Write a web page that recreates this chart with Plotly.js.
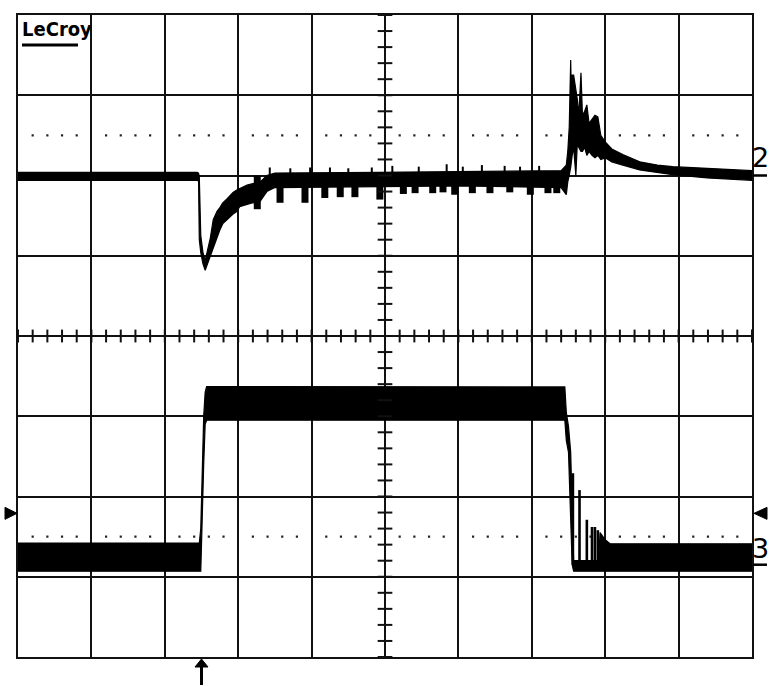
<!DOCTYPE html>
<html><head><meta charset="utf-8">
<script src="https://cdn.plot.ly/plotly-3.0.1.min.js"></script>
<style>html,body{margin:0;padding:0;background:#fff;}#chart{width:778px;height:686px;}</style>
</head><body><div id="chart"></div>
<script>
// Channel 2 (upper trace): time and amplitude in screen divisions, min/max envelope
const ch2T  = [0,2.44,2.46,2.47,2.49,2.52,2.55,2.57,2.62,2.66,2.71,2.75,2.79,2.85,2.93,2.98,3.02,3.12,3.20,3.30,3.39,3.50,4.90,6.00,7.40,7.47,7.49,7.51,7.53,7.54,7.55,7.57,7.60,7.62,7.64,7.67,7.69,7.72,7.75,7.78,7.82,7.86,7.90,7.94,8.00,8.09,8.24,8.47,8.71,8.92,9.39,10.0];
const ch2Hi = [2.04,2.04,2.03,1.98,1.25,1.04,0.94,1.02,1.22,1.45,1.55,1.60,1.66,1.71,1.79,1.82,1.84,1.88,1.90,1.92,2.00,2.03,2.04,2.05,2.06,2.13,2.30,2.60,3.44,2.90,3.25,3.25,3.10,2.95,2.75,3.28,2.75,2.80,2.88,2.65,2.70,2.75,2.73,2.50,2.42,2.33,2.26,2.17,2.13,2.11,2.09,2.06];
const ch2Lo = [1.94,1.94,1.93,1.20,1.04,0.90,0.82,0.88,1.02,1.12,1.22,1.32,1.40,1.45,1.52,1.55,1.61,1.64,1.66,1.68,1.80,1.85,1.86,1.87,1.85,1.76,1.92,2.00,2.10,2.10,2.25,2.35,2.00,2.40,2.35,2.30,2.30,2.35,2.25,2.30,2.25,2.22,2.25,2.20,2.22,2.17,2.13,2.07,2.04,2.01,1.97,1.94];
// downward noise bursts and upward glitches on channel 2
const ch2DipT  = [3.26,3.57,3.91,4.18,4.39,4.59,4.93,5.25,5.41,5.65,5.79,5.95,6.19,6.43,6.70,6.98,7.22,7.34];
const ch2DipV  = [1.58,1.66,1.66,1.72,1.73,1.73,1.70,1.77,1.78,1.78,1.79,1.76,1.78,1.78,1.79,1.76,1.78,1.78];
const ch2PeakT = [3.43,3.71,3.98,4.25,4.50,4.82,5.10,5.46,5.84,6.06,6.32,6.63,6.84,7.10];
const ch2PeakV = [2.10,2.09,2.10,2.10,2.09,2.10,2.12,2.11,2.14,2.11,2.13,2.12,2.11,2.12];

// Channel 3 (lower trace)
const ch3T  = [0,2.47,2.49,2.51,2.53,2.55,2.57,7.45,7.47,7.50,7.53,7.55,7.57,7.91,7.93,8.00,8.07,10.0];
const ch3Hi = [-2.58,-2.58,-2.40,-1.50,-1.00,-0.70,-0.63,-0.635,-0.95,-1.13,-1.45,-2.15,-2.80,-2.80,-2.45,-2.54,-2.59,-2.59];
const ch3Lo = [-2.93,-2.93,-2.93,-2.40,-1.60,-1.10,-1.05,-1.05,-1.30,-1.45,-2.15,-2.85,-2.93,-2.93,-2.93,-2.93,-2.93,-2.93];
// ringing after the falling edge
const ch3RingT = [7.56,7.65,7.75,7.82,7.86,7.90];
const ch3RingV = [-1.71,-1.92,-2.29,-2.38,-2.38,-2.42];

const ch2Ground = 2.0;
const ch3Ground = -2.85;
const triggerTime = 2.5;
const triggerLevel = -2.21;
const cursorLevels = [2.5, -2.5];

// ---- layout geometry ----
const W = 778, H = 686, ML = 18, MR = 26, MT = 15, MB = 29;
const PW = W - ML - MR, PH = H - MT - MB;
const px2p = px => (px - ML) / PW;
const py2p = py => (H - MB - py) / PH;
const xd2p = t => t / 10;
const yd2p = v => (v + 4) / 8;

function band(t, hi, lo) {
  return {
    type: 'scatter', mode: 'lines',
    x: t.concat(t.slice().reverse()),
    y: hi.concat(lo.slice().reverse()),
    fill: 'toself', fillcolor: '#000',
    line: {color: '#000', width: 1.2},
    hoverinfo: 'skip', showlegend: false
  };
}
function segs(ts, from, vs, w) {
  const x = [], y = [];
  ts.forEach((t, i) => { x.push(t, t, null); y.push(from, vs[i], null); });
  return {type: 'scatter', mode: 'lines', x: x, y: y, connectgaps: false,
    line: {color: '#000', width: w}, hoverinfo: 'skip', showlegend: false};
}

const dotX = [], dotY = [];
cursorLevels.forEach(lv => {
  for (let k = 1; k < 50; k++) { if (k % 5 !== 0) { dotX.push(k * 0.2); dotY.push(lv); } }
});

const traces = [
  {type: 'scatter', mode: 'markers', x: dotX, y: dotY, marker: {symbol: 'square', size: 2.2, color: '#222'}, hoverinfo: 'skip', showlegend: false},
  band(ch2T, ch2Hi, ch2Lo),
  segs(ch2DipT, ch2Ground, ch2DipV, 7),
  segs(ch2PeakT, ch2Ground, ch2PeakV, 2),
  band(ch3T, ch3Hi, ch3Lo),
  segs(ch3RingT, ch3Ground, ch3RingV, 2.6)
];

const shapes = [];
for (let k = -20; k <= 20; k++) {
  const v = k * 0.2;
  shapes.push({type: 'line', xref: 'x', yref: 'y', x0: 5 - 0.1, x1: 5 + 0.1, y0: v, y1: v, line: {color: '#111', width: 2}});
}
for (let k = 0; k <= 50; k++) {
  const t = k * 0.2;
  shapes.push({type: 'line', xref: 'x', yref: 'y', x0: t, x1: t, y0: -0.08, y1: 0.08, line: {color: '#111', width: 2}});
}
shapes.push({type: 'line', xref: 'paper', yref: 'paper', x0: px2p(22), x1: px2p(78), y0: py2p(45), y1: py2p(45), line: {color: '#000', width: 3}});
[ch2Ground, ch3Ground].forEach(g => {
  shapes.push({type: 'line', xref: 'paper', yref: 'paper', x0: px2p(753), x1: px2p(767), y0: yd2p(g), y1: yd2p(g), line: {color: '#000', width: 2.5}});
});
const ty = yd2p(triggerLevel), tdy = 6 / PH;
shapes.push({type: 'path', xref: 'paper', yref: 'paper', fillcolor: '#000', line: {color: '#000', width: 1},
  path: `M ${px2p(5)} ${ty - tdy} L ${px2p(5)} ${ty + tdy} L ${px2p(17)} ${ty} Z`});
shapes.push({type: 'path', xref: 'paper', yref: 'paper', fillcolor: '#000', line: {color: '#000', width: 1},
  path: `M ${px2p(767)} ${ty - tdy} L ${px2p(767)} ${ty + tdy} L ${px2p(754)} ${ty} Z`});
const ax = xd2p(triggerTime), adx = 6.5 / PW, sdx = 1.5 / PW;
shapes.push({type: 'path', xref: 'paper', yref: 'paper', fillcolor: '#000', line: {color: '#000', width: 1},
  path: `M ${ax - adx} ${py2p(667)} L ${ax + adx} ${py2p(667)} L ${ax} ${py2p(659)} Z`});
shapes.push({type: 'rect', xref: 'paper', yref: 'paper', x0: ax - sdx, x1: ax + sdx, y0: py2p(685), y1: py2p(666), fillcolor: '#000', line: {width: 0}});

const annotations = [
  {xref: 'paper', yref: 'paper', x: 0, y: 1, xanchor: 'left', yanchor: 'top', xshift: 2, yshift: 0,
   text: '<b>LeCroy</b>', showarrow: false,
   font: {family: '"Liberation Sans Narrow", "DejaVu Sans Condensed", "DejaVu Sans Mono"', size: 20, color: '#000'}},
  {xref: 'paper', yref: 'paper', x: px2p(760), y: py2p(158), xanchor: 'center', yanchor: 'middle',
   text: '2', showarrow: false, font: {family: 'DejaVu Sans', size: 27, color: '#000'}},
  {xref: 'paper', yref: 'paper', x: px2p(760), y: py2p(548), xanchor: 'center', yanchor: 'middle',
   text: '3', showarrow: false, font: {family: 'DejaVu Sans', size: 27, color: '#000'}}
];

const axisCommon = {
  showgrid: true, gridcolor: '#111', gridwidth: 2, dtick: 1, tick0: 0,
  showticklabels: false, ticks: '', zeroline: false,
  showline: true, mirror: true, linecolor: '#111', linewidth: 2, fixedrange: true
};

const layout = {
  width: W, height: H,
  margin: {l: ML, r: MR, t: MT, b: MB, pad: 0},
  paper_bgcolor: '#fff', plot_bgcolor: '#fff',
  xaxis: Object.assign({range: [0, 10]}, axisCommon),
  yaxis: Object.assign({range: [-4, 4]}, axisCommon),
  shapes: shapes, annotations: annotations, showlegend: false
};

Plotly.newPlot('chart', traces, layout, {displayModeBar: false, staticPlot: true});
</script></body></html>
